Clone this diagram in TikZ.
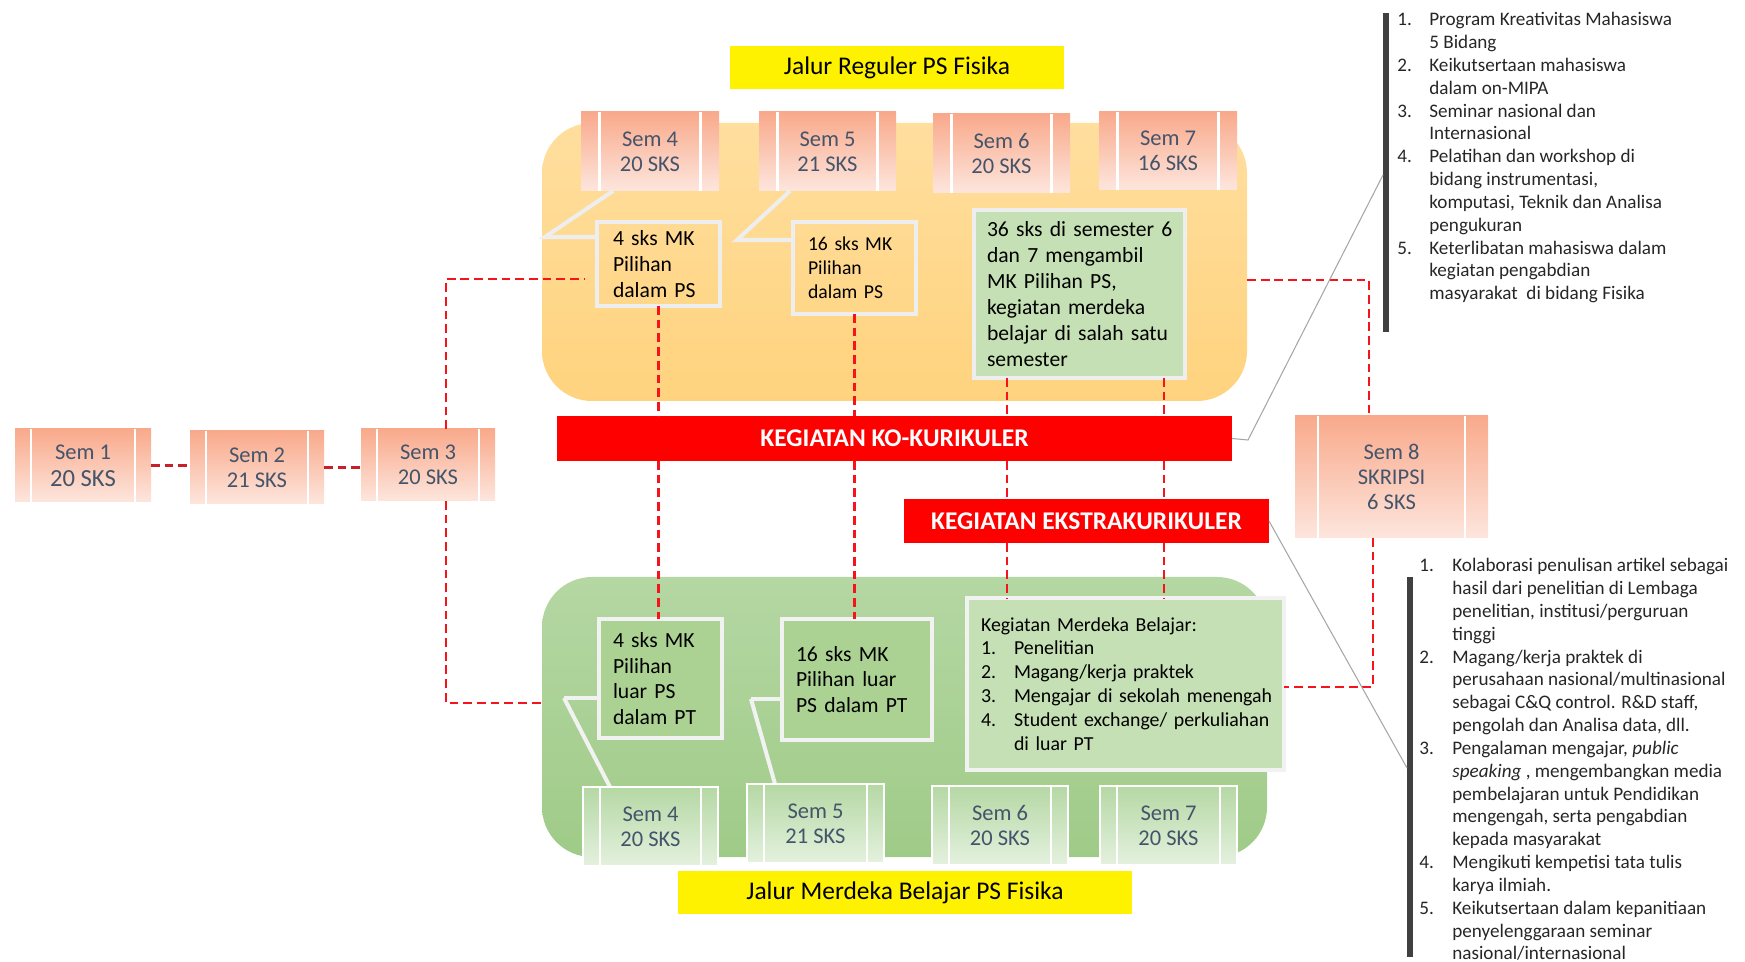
\documentclass[tikz,border=0pt]{standalone}
\usepackage{fontspec}
\setmainfont{Carlito}
\usetikzlibrary{calc}
\definecolor{semtxt}{HTML}{44546A}
\definecolor{salTop}{HTML}{F9A98B}
\definecolor{salBot}{HTML}{FDE6DD}
\definecolor{grTop}{HTML}{B5D8A4}
\definecolor{grBot}{HTML}{E4F1DE}
\definecolor{orTop}{HTML}{FFDE9E}
\definecolor{orBot}{HTML}{FFD37E}
\definecolor{gbTop}{HTML}{B5D7A3}
\definecolor{gbBot}{HTML}{9FCB88}
\definecolor{lgray}{HTML}{EEEEEE}
\definecolor{lgreen}{HTML}{C5E0B4}
\definecolor{mgreen}{HTML}{ABD293}
\definecolor{dred}{HTML}{F5141B}
\definecolor{dred2}{HTML}{C8202A}
\definecolor{barc}{HTML}{404040}
\definecolor{leadc}{HTML}{A6A6A6}
\definecolor{lsttxt}{HTML}{262626}
\newcommand\strips[2]{%
  \draw[white, line width=1.2pt] ([xshift=#2]#1.north west) -- ([xshift=#2]#1.south west);
  \draw[white, line width=1.2pt] ([xshift=-#2]#1.north east) -- ([xshift=-#2]#1.south east);}
\begin{document}
\begin{tikzpicture}[x=0.02cm,y=-0.02cm,
  bx/.style n args={4}{inner sep=0pt, outer sep=0pt,
     minimum width={(#3-#1)*0.02cm}, minimum height={(#4-#2)*0.02cm},
     at={({(#1+#3)/2},{(#2+#4)/2})}},
  dsh/.style={draw=dred, line width=1.6pt, dash pattern=on 5pt off 2.8pt},
  dshb/.style={draw=dred2, line width=1.6pt, dash pattern=on 5pt off 2.8pt},
  semo/.style={top color=salTop, bottom color=salBot, text=semtxt, align=center, font=\fontsize{12.8pt}{14.2pt}\selectfont},
  semg/.style={top color=grTop, bottom color=grBot, draw=white, line width=1pt, text=semtxt, align=center, font=\fontsize{12.8pt}{14.2pt}\selectfont},
  obox/.style={draw=lgray, line width=2.3pt, align=left, text=black, font=\fontsize{12.3pt}{14.7pt}\selectfont},
  gbox/.style={draw=white!95!black, line width=2.6pt, align=left, text=black, font=\fontsize{12.3pt}{14.7pt}\selectfont},
  redbar/.style={fill=red, text=white, font=\bfseries\fontsize{14.5pt}{16pt}\selectfont},
  yel/.style={fill=yellow, text=black, font=\fontsize{14.5pt}{16pt}\selectfont},
  callO/.style={draw=lgray, line width=2.3pt},
  callG/.style={draw=white!95!black, line width=2.3pt},
  lead/.style={draw=leadc, line width=0.6pt},
  lst/.style={inner sep=0pt, anchor=north west, align=left, text=lsttxt, font=\fontsize{10.9pt}{13pt}\selectfont},
]
\useasboundingbox (0,0) rectangle (1745,962);

% big rounded panels
\node[bx={542}{123}{1247}{401}, rounded corners=1cm, top color=orTop, bottom color=orBot] (orange) {};
\node[bx={542}{577}{1267}{857}, rounded corners=1cm, top color=gbTop, bottom color=gbBot] (green) {};

% yellow titles
\node[yel, bx={730}{46}{1064}{89}] (ytop) {Jalur Reguler PS Fisika};
\node[yel, bx={678}{871}{1132}{914}] (ybot) {Jalur Merdeka Belajar PS Fisika};

\coordinate (p1b) at (545,237);
\coordinate (p2b) at (737,240);
\coordinate (q1b) at (564,698);
\coordinate (q2b) at (751,699);

% semester boxes, row 1
\node[semo, bx={15}{429}{151}{502}] (s1) {Sem 1\\[1pt]\fontsize{14pt}{16pt}\selectfont 20 SKS};
\strips{s1}{0.32cm}
\node[semo, bx={190}{431}{324}{504}] (s2) {Sem 2\\21 SKS};
\strips{s2}{0.32cm}
\node[semo, bx={361}{429}{495}{501}] (s3) {Sem 3\\20 SKS};
\strips{s3}{0.32cm}

% top semester boxes
\node[semo, bx={581}{112}{719}{191}] (t4) {Sem 4\\20 SKS};
\strips{t4}{0.37cm}
\node[semo, bx={759}{112}{896}{191}] (t5) {Sem 5\\21 SKS};
\strips{t5}{0.37cm}
\node[semo, bx={933}{114}{1070}{193}] (t6) {Sem 6\\20 SKS};
\strips{t6}{0.37cm}
\node[semo, bx={1099}{112}{1237}{190}] (t7) {Sem 7\\16 SKS};
\strips{t7}{0.37cm}

% semester 8
\node[semo, bx={1295}{416}{1488}{538}] (s8) {Sem 8\\SKRIPSI\\6 SKS};
\strips{s8}{0.46cm}

% boxes in orange panel
\node[obox, bx={597}{222}{720}{306}, text width=1.82cm] (a4) {4 sks MK\\Pilihan\\dalam PS};
\node[obox, bx={793}{222}{916}{314}, text width=1.86cm, font=\fontsize{11.2pt}{13.6pt}\selectfont] (a5) {16 sks MK\\Pilihan\\dalam PS};
\node[obox, bx={974}{210}{1185}{378}, fill=lgreen, text width=3.7cm, font=\fontsize{12.3pt}{14.85pt}\selectfont] (a36) {\mbox{36 sks di semester 6}\\dan 7 mengambil\\MK Pilihan PS,\\kegiatan merdeka\\\mbox{belajar di salah satu}\\semester};

\draw[callO] ([xshift=0.64cm]t4.south west) -- (p1b) -- (a4.west |- p1b);
\draw[callO] ([xshift=0.62cm]t5.south west) -- (p2b) -- (a5.west |- p2b);

% red bars
\node[redbar, bx={557}{416}{1232}{461}] (ko) {KEGIATAN KO-KURIKULER};
\node[redbar, bx={904}{499}{1269}{543}] (ek) {KEGIATAN EKSTRAKURIKULER};

% green panel boxes
\draw[callG] (q1b) -- ([xshift=0.54cm]583,787);
\draw[callG] (q2b) -- ([xshift=0.56cm]747,784);
\node[gbox, bx={599}{619}{722}{738}, fill=mgreen, text width=1.9cm] (b4) {4 sks MK\\Pilihan\\luar PS\\dalam PT};
\node[gbox, bx={782}{619}{932}{740}, fill=mgreen, text width=2.44cm] (b5) {16 sks MK\\Pilihan luar\\PS dalam PT};
\node[gbox, bx={967}{598}{1284}{770}, fill=lgreen, text width=5.78cm, font=\fontsize{11.3pt}{13.6pt}\selectfont] (bm) {\mbox{Kegiatan Merdeka Belajar:}\\
\mbox{\makebox[0.66cm][l]{1.}Penelitian}\\
\mbox{\makebox[0.66cm][l]{2.}Magang/kerja praktek}\\
\mbox{\makebox[0.66cm][l]{3.}Mengajar di sekolah menengah}\\
\mbox{\makebox[0.66cm][l]{4.}Student exchange/ perkuliahan}\\
\mbox{\hspace*{0.66cm}di luar PT}};
\draw[callG] (b4.west |- q1b) -- (q1b);
\draw[callG] (b5.west |- q2b) -- (q2b);

% green semester boxes
\node[semg, bx={583}{787}{718}{866}] (g4) {Sem 4\\20 SKS};
\strips{g4}{0.34cm}
\node[semg, bx={747}{784}{884}{863}] (g5) {Sem 5\\21 SKS};
\strips{g5}{0.34cm}
\node[semg, bx={932}{786}{1068}{865}] (g6) {Sem 6\\20 SKS};
\strips{g6}{0.34cm}
\node[semg, bx={1100}{786}{1237}{865}] (g7) {Sem 7\\20 SKS};
\strips{g7}{0.34cm}

% dashed connectors
\draw[dshb] (s1.east) -- (s1.east -| s2.west);
\draw[dshb] (s2.east) -- (s2.east -| s3.west);
\coordinate (k1) at (446,279);
\coordinate (k1e) at (585,279);
\draw[dsh] (s3.north -| k1) -- (k1) -- (k1e);
\coordinate (k2) at (446,703);
\draw[dsh] (s3.south -| k2) -- (k2) -- (green.west |- k2);
\draw[dsh] (a4.south) -- (a4.south |- ko.north);
\draw[dsh] (a4.south |- ko.south) -- (a4.south |- b4.north);
\draw[dsh] (a5.south) -- (a5.south |- ko.north);
\draw[dsh] (a5.south |- ko.south) -- (a5.south |- b5.north);
\coordinate (v1) at (1007,0);
\coordinate (v2) at (1164,0);
\foreach \v in {v1,v2}{
  \draw[dsh] (a36.south -| \v) -- (ko.north -| \v);
  \draw[dsh] (ko.south -| \v) -- (ek.north -| \v);
  \draw[dsh] (ek.south -| \v) -- (bm.north -| \v);
}
\coordinate (k3) at (1369,280);
\draw[dsh] (orange.east |- k3) -- (k3) -- (s8.north -| k3);
\coordinate (k4) at (1373,687);
\draw[dsh] (s8.south -| k4) -- (k4) -- (bm.east |- k4);

% side lists
\node[bx={1383}{13}{1389}{332}, fill=barc] (bar1) {};
\node[bx={1407}{577}{1413}{957}, fill=barc] (bar2) {};
\coordinate (k5) at (1248,440);
\coordinate (k6) at (1385,175);
\coordinate (k7) at (1410,768);
\draw[lead] (ko.east) -- (k5) -- (bar1.west |- k6);
\draw[lead] (ek.east) -- (bar2.west |- k7);

\node[lst] (l1) at (1397,12) {%
\makebox[0.64cm][l]{1.}Program Kreativitas Mahasiswa\\
\hspace*{0.64cm}5 Bidang\\
\makebox[0.64cm][l]{2.}Keikutsertaan mahasiswa\\
\hspace*{0.64cm}dalam on-MIPA\\
\makebox[0.64cm][l]{3.}Seminar nasional dan\\
\hspace*{0.64cm}Internasional\\
\makebox[0.64cm][l]{4.}Pelatihan dan workshop di\\
\hspace*{0.64cm}bidang instrumentasi,\\
\hspace*{0.64cm}komputasi, Teknik dan Analisa\\
\hspace*{0.64cm}pengukuran\\
\makebox[0.64cm][l]{5.}Keterlibatan mahasiswa dalam\\
\hspace*{0.64cm}kegiatan pengabdian\\
\hspace*{0.64cm}masyarakat~ di bidang Fisika};

\node[lst] (l2) at (1419,558) {%
\makebox[0.66cm][l]{1.}Kolaborasi penulisan artikel sebagai\\
\hspace*{0.66cm}hasil dari penelitian di Lembaga\\
\hspace*{0.66cm}penelitian, institusi/perguruan\\
\hspace*{0.66cm}tinggi\\
\makebox[0.66cm][l]{2.}Magang/kerja praktek di\\
\hspace*{0.66cm}perusahaan nasional/multinasional\\
\hspace*{0.66cm}sebagai C\&Q control. R\&D staff,\\
\hspace*{0.66cm}pengolah dan Analisa data, dll.\\
\makebox[0.66cm][l]{3.}Pengalaman mengajar, \textit{public}\\
\hspace*{0.66cm}\textit{speaking} , mengembangkan media\\
\hspace*{0.66cm}pembelajaran untuk Pendidikan\\
\hspace*{0.66cm}mengengah, serta pengabdian\\
\hspace*{0.66cm}kepada masyarakat\\
\makebox[0.66cm][l]{4.}Mengikuti kempetisi tata tulis\\
\hspace*{0.66cm}karya ilmiah.\\
\makebox[0.66cm][l]{5.}Keikutsertaan dalam kepanitiaan\\
\hspace*{0.66cm}penyelenggaraan seminar\\
\hspace*{0.66cm}nasional/internasional};
\end{tikzpicture}
\end{document}
